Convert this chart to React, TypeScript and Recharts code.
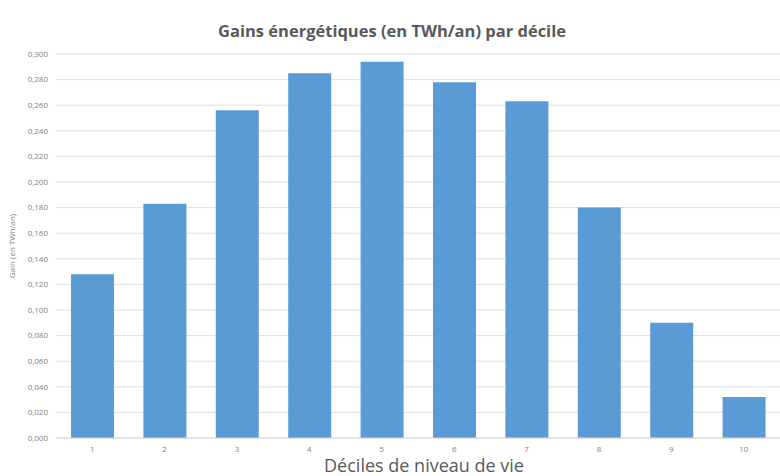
import { BarChart, Bar, XAxis, YAxis, CartesianGrid } from "recharts";

const deciles = ["1", "2", "3", "4", "5", "6", "7", "8", "9", "10"];
const gains = [0.128, 0.183, 0.256, 0.285, 0.294, 0.278, 0.263, 0.18, 0.09, 0.032];
const yTicks = [0, 0.02, 0.04, 0.06, 0.08, 0.1, 0.12, 0.14, 0.16, 0.18, 0.2, 0.22, 0.24, 0.26, 0.28, 0.3];

const data = deciles.map((d, i) => ({ decile: d, gain: gains[i] }));

const fmt = (v: number) => v.toFixed(3).replace(".", ",");

export default function App() {
  return (
    <div
      style={{
        position: "absolute",
        left: 0,
        top: 0,
        width: 780,
        height: 476,
        background: "#fff",
        fontFamily: "'Open Sans', sans-serif",
      }}
    >
      <div
        style={{
          position: "absolute",
          top: 19,
          left: 0,
          width: 784,
          textAlign: "center",
          fontSize: 16.5,
          fontWeight: 700,
          color: "#595959",
        }}
      >
        Gains énergétiques (en TWh/an) par décile
      </div>
      <BarChart
        width={780}
        height={476}
        data={data}
        margin={{ top: 54, right: 0, bottom: 14, left: 0 }}
      >
        <CartesianGrid vertical={false} stroke="#dedede" />
        <XAxis
          dataKey="decile"
          tickLine={false}
          axisLine={{ stroke: "#d9d9d9" }}
          tick={{ fontSize: 8, fill: "#7f7f7f" }}
          height={24}
          label={{
            value: "Déciles de niveau de vie",
            position: "insideBottom",
            offset: -10,
            dx: 6,
            fontSize: 18,
            fill: "#595959",
          }}
        />
        <YAxis
          width={56}
          domain={[0, 0.3]}
          ticks={yTicks}
          tickFormatter={fmt}
          tickLine={false}
          axisLine={false}
          interval={0}
          tick={{ fontSize: 8, fill: "#7f7f7f" }}
          label={{
            value: "Gain (en TWh/an)",
            angle: -90,
            position: "insideLeft",
            offset: 12,
            fontSize: 8,
            fill: "#7f7f7f",
            style: { textAnchor: "middle" },
          }}
        />
        <Bar dataKey="gain" fill="#5b9bd5" barSize={43} isAnimationActive={false} />
      </BarChart>
    </div>
  );
}
